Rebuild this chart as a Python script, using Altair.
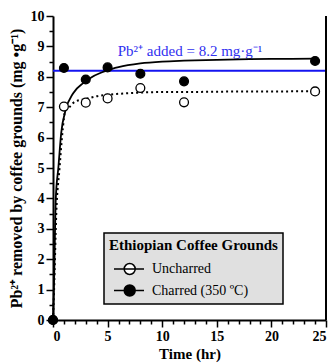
import altair as alt
import pandas as pd

# --- data ---
times = [0, 1, 3, 5, 8, 12, 24]
uncharred = [0, 7.02, 7.15, 7.29, 7.63, 7.16, 7.52]
charred = [0, 8.29, 7.91, 8.31, 8.10, 7.85, 8.52]

fit_t_charred = [0, 0.1, 0.25, 0.5, 0.75, 1.15, 1.85, 2.8, 3.5, 4.5, 5, 6, 8, 10, 12, 15, 18, 21, 24]
fit_charred = [0, 1.3, 3.95, 5.05, 6.15, 6.9, 7.46, 7.8, 7.98, 8.15, 8.22, 8.32, 8.44, 8.5, 8.53, 8.56, 8.58, 8.59, 8.6]

fit_t_unch = [0, 0.1, 0.3, 0.6, 0.9, 1.1, 1.5, 2, 3, 4, 5, 6, 8, 10, 12, 15, 18, 21, 24]
fit_unch = [0, 1.0, 3.5, 5.0, 6.3, 6.85, 7.0, 7.18, 7.27, 7.36, 7.41, 7.44, 7.48, 7.5, 7.5, 7.51, 7.52, 7.52, 7.53]

series_names = ["Uncharred", "Charred (350 \u00baC)"]
added_value = [8.2]
annot_pos = [12.55, 8.86]
annot_text = "Pb\u00b2\u207a added = 8.2 mg\u00b7g\u207b\u00b9"
legend_title = "\u00a0\u00a0\u00a0Ethiopian Coffee Grounds\u00a0\u00a0"
x_max = [25]

FONT = "Liberation Serif"

pts_u = pd.DataFrame({"t": times, "q": uncharred, "series": series_names[0]})
pts_c = pd.DataFrame({"t": times, "q": charred, "series": series_names[1]})
fit_u = pd.DataFrame({"t": fit_t_unch, "q": fit_unch})
fit_c = pd.DataFrame({"t": fit_t_charred, "q": fit_charred})

x_axis = alt.Axis(
    values=list(range(0, 26)),
    labelExpr="datum.value % 5 === 0 ? format(datum.value, 'd') : ''",
    tickSize={"condition": {"test": "datum.value % 5 !== 0", "value": 4}, "value": 7},
    title="Time (hr)", titleFontSize=15, titlePadding=3,
    grid=False,
)
y_axis = alt.Axis(
    values=[i * 0.5 for i in range(0, 21)],
    labelExpr="datum.value % 1 === 0 ? format(datum.value, 'd') : ''",
    tickSize={"condition": {"test": "datum.value % 1 !== 0", "value": 4}, "value": 7},
    title="Pb\u00b2\u207a removed by coffee grounds (mg \u2022g\u207b\u00b9)",
    titleFontSize=16, titlePadding=6,
    grid=False,
)
xs = alt.Scale(domain=[0, 25], nice=False)
ys = alt.Scale(domain=[0, 10], nice=False)

def X():
    return alt.X("t:Q", scale=xs, axis=x_axis)

def Y():
    return alt.Y("q:Q", scale=ys, axis=y_axis)

blue_rule = alt.Chart(pd.DataFrame({"v": added_value})).mark_rule(
    color="#1414f0", strokeWidth=2
).encode(y=alt.Y("v:Q", scale=ys, axis=y_axis))

annot = alt.Chart(pd.DataFrame({"t": [annot_pos[0]], "q": [annot_pos[1]]})).mark_text(
    text=annot_text, font=FONT, fontSize=15, color="#3030f0"
).encode(x=X(), y=Y())

line_c = alt.Chart(fit_c).mark_line(
    color="black", strokeWidth=1.8, interpolate="monotone"
).encode(x=X(), y=Y())
line_u = alt.Chart(fit_u).mark_line(
    color="black", strokeWidth=2, strokeDash=[2, 3], interpolate="monotone"
).encode(x=X(), y=Y())

pt_u = alt.Chart(pts_u).mark_point(
    shape="circle", size=78, filled=True, fill="white", stroke="black",
    strokeWidth=1.3, opacity=1
).encode(x=X(), y=Y())
pt_c = alt.Chart(pts_c).mark_point(
    shape="circle", size=78, filled=True, fill="black", stroke="black",
    strokeWidth=1.3, opacity=1
).encode(x=X(), y=Y())

sym_path = "M-0.6,0L2.4,0M0.42,0A0.55,0.55,0,1,1,1.52,0A0.55,0.55,0,1,1,0.42,0Z"
leg = alt.Legend(
    title=legend_title,
    orient="none", legendX=51, legendY=217,
    padding=5, fillColor="#e0e0e0", strokeColor="black",
    titleFont=FONT, titleFontSize=15, titleFontWeight="bold", titleColor="black",
    titleAnchor="start", titlePadding=5,
    labelFont=FONT, labelFontSize=14, labelColor="black", labelOffset=21,
    rowPadding=1.5, symbolSize=400, symbolStrokeWidth=1.5,
    symbolType=sym_path, symbolStrokeColor="black", symbolOpacity=1,
)
legend_layer = alt.Chart(pd.concat([pts_u, pts_c])).transform_filter("false").mark_point(
    shape=sym_path, filled=True, size=400, strokeWidth=1.5, opacity=1
).encode(
    x=X(), y=Y(),
    fill=alt.Fill("series:N", scale=alt.Scale(domain=series_names, range=["white", "black"]), legend=leg),
    stroke=alt.Stroke("series:N", scale=alt.Scale(domain=series_names, range=["black", "black"]), legend=leg),
)

right_border = alt.Chart(pd.DataFrame({"t": x_max})).mark_rule(
    color="black", strokeWidth=2
).encode(x=X())

chart = alt.layer(
    blue_rule, annot, line_u, line_c, pt_u, pt_c, legend_layer, right_border
).properties(
    width=273, height=304,
    padding={"left": 53, "top": 16, "right": 7, "bottom": 44},
    autosize=alt.AutoSizeParams(type="none"),
).configure_view(strokeWidth=0).configure_axis(
    labelFont=FONT, labelFontSize=14, labelFontWeight="bold", labelColor="black",
    titleFont=FONT, titleFontWeight="bold", titleColor="black",
    domainColor="black", domainWidth=2, tickColor="black", tickWidth=1.5,
    labelPadding=2,
).configure_legend(strokeWidth=1.5)

chart.save("out.html", embed_options={"renderer": "svg", "actions": False})
